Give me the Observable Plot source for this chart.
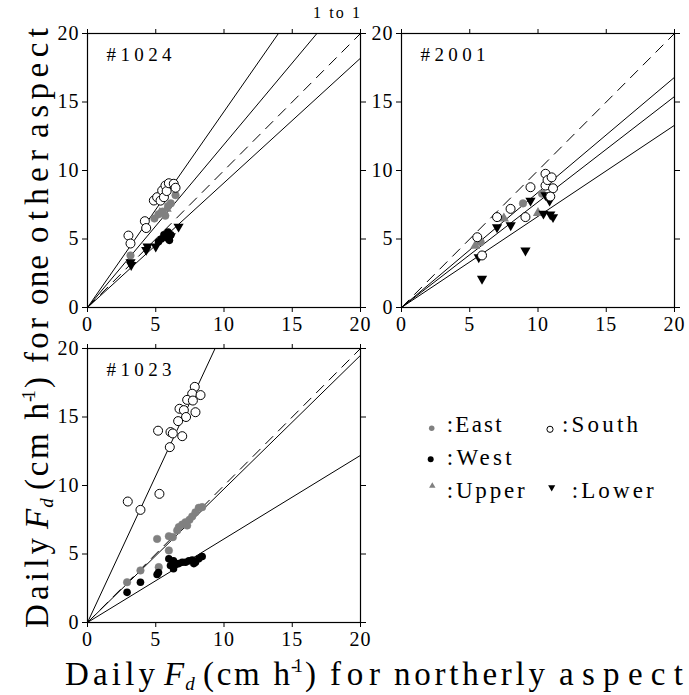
<!DOCTYPE html>
<html><head><meta charset="utf-8">
<script src="https://cdn.jsdelivr.net/npm/d3@7"></script>
<script src="https://cdn.jsdelivr.net/npm/@observablehq/plot@0.6"></script>
<style>
body{margin:0;background:#fff;}
#chart{position:relative;width:689px;height:695px;overflow:hidden;}
#chart svg{position:absolute;}
</style></head><body><div id="chart"></div>
<script>
const axisTicks = [0, 5, 10, 15, 20];
const legendLabels = [":East", ":South", ":West", ":Upper", ":Lower"];
const panelLabels = ["#1024", "#2001", "#1023"];

// Panel #1024 : [northerly, other aspect]
const south1024 = [[3.0,5.25],[3.15,4.67],[4.2,6.3],[4.3,5.8],[4.86,7.81],[5.1,8.05],[5.35,7.8],[5.47,8.54],[5.6,8.05],[5.71,8.9],[5.8,8.5],[5.96,9.07],[6.32,9.03],[6.45,8.74]];
const east1024 = [[3.15,3.8],[4.25,5.8],[4.9,6.5],[5.2,6.8],[5.5,7.0],[5.7,6.7],[5.9,7.4],[6.1,7.6],[6.45,8.2]];
const upper1024 = [[5.3,6.9],[5.8,7.2]];
const west1024 = [[5.2,4.8],[5.4,5.0],[5.6,5.3],[5.8,5.1],[5.9,5.5],[6.0,4.9],[6.1,5.3]];
const lower1024 = [[3.15,3.3],[3.2,3.1],[4.3,4.2],[4.4,4.45],[5.0,4.45],[6.1,5.2],[6.67,5.9]];
const fits1024 = [1.43, 1.19, 0.91];

// Panel #2001
const south2001 = [[5.55,5.13],[5.9,3.8],[7.0,6.6],[7.99,7.2],[9.08,6.6],[9.45,8.78],[10.55,9.76],[10.55,8.9],[10.7,9.3],[11.0,9.5],[11.1,8.7],[10.9,8.1]];
const east2001 = [[5.8,4.77],[8.9,7.6],[10.3,8.3]];
const upper2001 = [[5.4,4.5],[7.5,6.5],[10.0,6.9]];
const west2001 = [];
const lower2001 = [[5.66,3.67],[5.9,2.1],[7.0,5.86],[8.0,6.0],[9.08,4.16],[9.45,7.8],[10.55,8.2],[10.4,6.85],[10.9,6.8],[11.1,6.6],[10.85,7.8]];
const fits2001 = [0.84, 0.77, 0.665];

// Panel #1023
const south1023 = [[7.86,17.2],[7.67,16.7],[8.28,16.6],[7.3,16.25],[7.72,16.2],[6.74,15.6],[7.06,15.5],[7.91,15.35],[7.22,15.0],[6.64,14.7],[5.17,14.0],[6.08,13.9],[6.94,13.6],[6.25,13.8],[6.03,12.8],[5.27,9.39],[3.88,8.22],[2.95,8.83]];
const east1023 = [[2.9,2.94],[3.88,3.8],[5.22,4.04],[5.96,5.26],[5.1,6.1],[5.96,6.3],[6.25,6.23],[6.57,6.72],[6.69,6.96],[6.94,7.15],[7.18,7.32],[7.3,7.08],[7.47,7.5],[7.67,7.74],[7.91,8.05],[8.15,8.37],[8.4,8.42]];
const upper1023 = [];
const west1023 = [[2.9,2.2],[3.88,2.94],[5.1,3.5],[5.2,3.65],[5.96,4.65],[6.08,4.16],[6.3,3.92],[6.3,4.5],[6.45,4.3],[6.69,4.3],[6.94,4.4],[7.18,4.4],[7.43,4.5],[7.67,4.55],[7.79,4.3],[7.91,4.4],[8.15,4.65],[8.4,4.82]];
const lower1023 = [];
const fits1023 = [2.14, 0.975, 0.61];

const GREY = "#808080";
const FONT = "'Liberation Serif','Times New Roman',serif";
const chart = document.getElementById("chart");

function panel(label, south, east, upper, west, lower, fits, left, top) {
  const px = d => d[0], py = d => d[1];
  const svg = Plot.plot({
    width: 313, height: 314,
    marginTop: 10, marginRight: 10, marginBottom: 30, marginLeft: 30,
    style: {fontFamily: FONT, fontSize: "20px", letterSpacing: "1px", color: "black", background: "transparent", overflow: "visible"},
    x: {domain: [0, 20]},
    y: {domain: [0, 20]},
    marks: [
      Plot.link([1], {x1: () => 0, y1: () => 0, x2: () => 20, y2: () => 20, stroke: "black", strokeWidth: 1, strokeDasharray: "11,7", clip: true}),
      Plot.link(fits, {x1: () => 0, y1: () => 0, x2: () => 20, y2: s => 20 * s, stroke: "black", strokeWidth: 1, clip: true}),
      Plot.dot(east, {x: px, y: py, r: 3.8, fill: GREY, stroke: GREY, strokeWidth: 0.5}),
      Plot.dot(upper, {x: px, y: py, r: 3.8, symbol: "triangle", fill: GREY}),
      Plot.dot(west, {x: px, y: py, r: 3.8, fill: "black"}),
      Plot.dot(lower, {x: px, y: py, r: 3.8, symbol: "triangle", rotate: 180, fill: "black"}),
      Plot.dot(south, {x: px, y: py, r: 4.5, fill: "white", stroke: "black", strokeWidth: 1}),
      Plot.frame({stroke: "black", strokeWidth: 1.2}),
      Plot.axisX({anchor: "bottom", ticks: axisTicks, tickSize: 5, tickPadding: 4, label: null, fontSize: 20}),
      Plot.axisX({anchor: "top", ticks: axisTicks, tickSize: 5, tickFormat: () => "", label: null}),
      Plot.axisY({anchor: "left", ticks: axisTicks, tickSize: 5, tickPadding: 3, label: null, fontSize: 20}),
      Plot.axisY({anchor: "right", ticks: axisTicks, tickSize: 5, tickFormat: () => "", label: null}),
      Plot.text([label], {frameAnchor: "top-left", dx: 19, dy: 14, fontSize: 19, lineAnchor: "top", textAnchor: "start"})
    ]
  });
  svg.style.left = left + "px";
  svg.style.top = top + "px";
  d3.select(svg).selectAll("g[aria-label='text'] text").attr("textLength", 66).attr("lengthAdjust", "spacing");
  chart.appendChild(svg);
}

panel(panelLabels[0], south1024, east1024, upper1024, west1024, lower1024, fits1024, 57, 23);
panel(panelLabels[1], south2001, east2001, upper2001, west2001, lower2001, fits2001, 371, 23);
panel(panelLabels[2], south1023, east1023, upper1023, west1023, lower1023, fits1023, 57, 338);

// Overlay: titles and legend
const ov = d3.select(chart).append("svg")
  .attr("width", 689).attr("height", 695).style("left", "0px").style("top", "0px")
  .style("font-family", FONT).style("pointer-events", "none");

// Axis titles as word segments: [text, start, end, kind]
const titleHead = [["Daily", 0, 90, "n"], ["Fd", 99, 124, "fd"], ["(cm h", 138, 225, "n"], ["-1", 226, 238, "sup"], [")", 240, 249, "n"]];
const xTitleTail = [["for", 265, 315, "n"], ["northerly", 329, 480, "n"], ["aspect", 494, 618, "n"]];
const yTitleTail = [["for", 265, 310, "n"], ["one", 323, 373, "n"], ["other", 385, 478, "n"], ["aspect", 490, 600, "n"]];

function drawTitle(g, segs) {
  for (const [t, a, b, kind] of segs) {
    if (kind === "fd") {
      const tx = g.append("text").attr("x", a).attr("y", 0).attr("font-size", 33).attr("font-style", "italic");
      tx.append("tspan").text(t[0]);
      tx.append("tspan").attr("font-size", 19).attr("dx", 1).attr("dy", 5).text(t.slice(1));
      continue;
    }
    const fs = kind === "sup" ? 19 : 33;
    const dy = kind === "sup" ? -13 : 0;
    g.append("text").attr("x", a).attr("y", dy)
      .attr("font-size", fs)
      .attr("textLength", b - a).attr("lengthAdjust", "spacing").text(t);
  }
}
drawTitle(ov.append("g").attr("transform", "translate(65,685)"), titleHead.concat(xTitleTail));
drawTitle(ov.append("g").attr("transform", "translate(48,628) rotate(-90)"), titleHead.concat(yTitleTail));

ov.append("text").attr("x", 313).attr("y", 18).attr("font-size", 16)
  .attr("textLength", 47).attr("lengthAdjust", "spacing").text("1 to 1");

// Legend
const sym = (type, size) => d3.symbol(type, size)();
const legend = [
  {label: legendLabels[0], sx: 431.7, sy: 428.3, path: sym(d3.symbolCircle, 24), fill: GREY, stroke: "none", tx: 446.7, ty: 432, w: 55},
  {label: legendLabels[1], sx: 550, sy: 429.3, path: sym(d3.symbolCircle, 30), fill: "white", stroke: "black", tx: 562, ty: 432, w: 76},
  {label: legendLabels[2], sx: 430.7, sy: 459.3, path: sym(d3.symbolCircle, 28), fill: "black", stroke: "none", tx: 446.7, ty: 465, w: 65},
  {label: legendLabels[3], sx: 432.3, sy: 486, path: sym(d3.symbolTriangle, 18), fill: GREY, stroke: "none", tx: 446.7, ty: 498, w: 78},
  {label: legendLabels[4], sx: 551.7, sy: 487.3, path: sym(d3.symbolTriangle, 22), fill: "black", stroke: "none", tx: 571.7, ty: 498, w: 82, rot: 180}
];
for (const l of legend) {
  ov.append("path").attr("d", l.path)
    .attr("transform", `translate(${l.sx},${l.sy})` + (l.rot ? ` rotate(${l.rot})` : ""))
    .attr("fill", l.fill).attr("stroke", l.stroke);
  ov.append("text").attr("x", l.tx).attr("y", l.ty).attr("font-size", 23)
    .attr("textLength", l.w).attr("lengthAdjust", "spacing").text(l.label);
}
</script></body></html>
